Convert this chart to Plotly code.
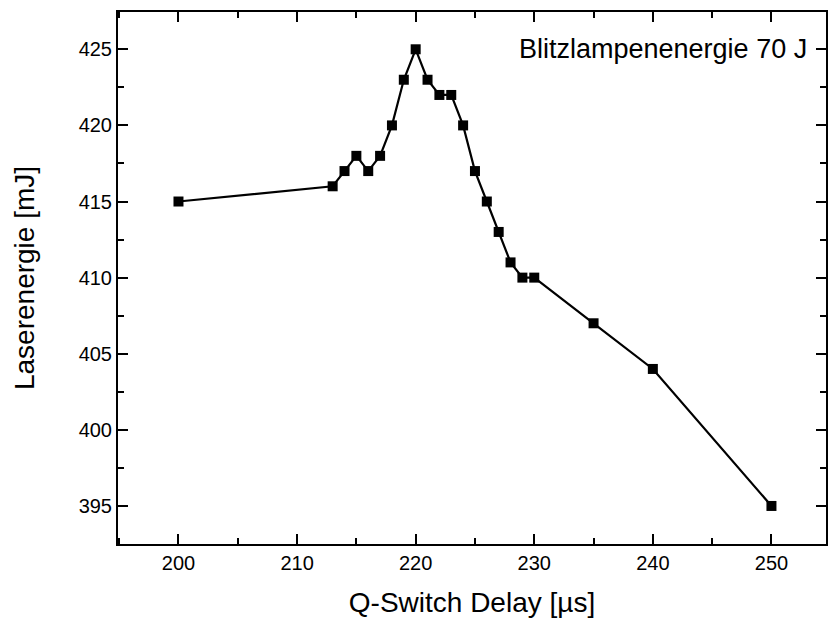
import plotly.graph_objects as go

delay_us = [200, 213, 214, 215, 216, 217, 218, 219, 220, 221, 222, 223, 224,
            225, 226, 227, 228, 229, 230, 235, 240, 250]
energy_mj = [415, 416, 417, 418, 417, 418, 420, 423, 425, 423, 422, 422, 420,
             417, 415, 413, 411, 410, 410, 407, 404, 395]

fig = go.Figure()
fig.add_trace(go.Scatter(
    x=delay_us, y=energy_mj, mode="lines+markers",
    line=dict(color="black", width=2.2),
    marker=dict(symbol="square", size=10, color="black"),
    showlegend=False,
))

font = "Liberation Sans, Arial, sans-serif"
axis_common = dict(
    showline=True, linecolor="black", linewidth=2, mirror="ticks",
    ticks="inside", ticklen=10, tickwidth=2, tickcolor="black",
    showgrid=False, zeroline=False,
    tickfont=dict(family=font, size=20, color="black"),
)
fig.update_xaxes(
    range=[194.9, 254.6], dtick=10, tick0=200,
    minor=dict(ticks="inside", dtick=5, tick0=200, ticklen=6, tickwidth=2, tickcolor="black"),
    title=dict(text="Q-Switch Delay [µs]", font=dict(family=font, size=28, color="black"), standoff=20),
    **axis_common,
)
fig.update_yaxes(
    range=[392.5, 427.45], dtick=5, tick0=395,
    minor=dict(ticks="inside", dtick=2.5, tick0=395, ticklen=6, tickwidth=2, tickcolor="black"),
    title=dict(text="Laserenergie [mJ]", font=dict(family=font, size=28, color="black"), standoff=36),
    **axis_common,
)
fig.add_annotation(
    x=0.976, y=425, xref="paper", yref="y", xanchor="right", yanchor="middle",
    text="Blitzlampenenergie 70 J", showarrow=False,
    font=dict(family=font, size=27, color="black"),
)
fig.update_layout(
    width=828, height=618,
    margin=dict(l=118, r=2, t=12, b=74, autoexpand=False),
    plot_bgcolor="white", paper_bgcolor="white",
)
fig.write_html(
    "out.html",
    config={"displayModeBar": False},
    post_script="document.body.style.margin='0';document.body.style.overflow='hidden';",
)
